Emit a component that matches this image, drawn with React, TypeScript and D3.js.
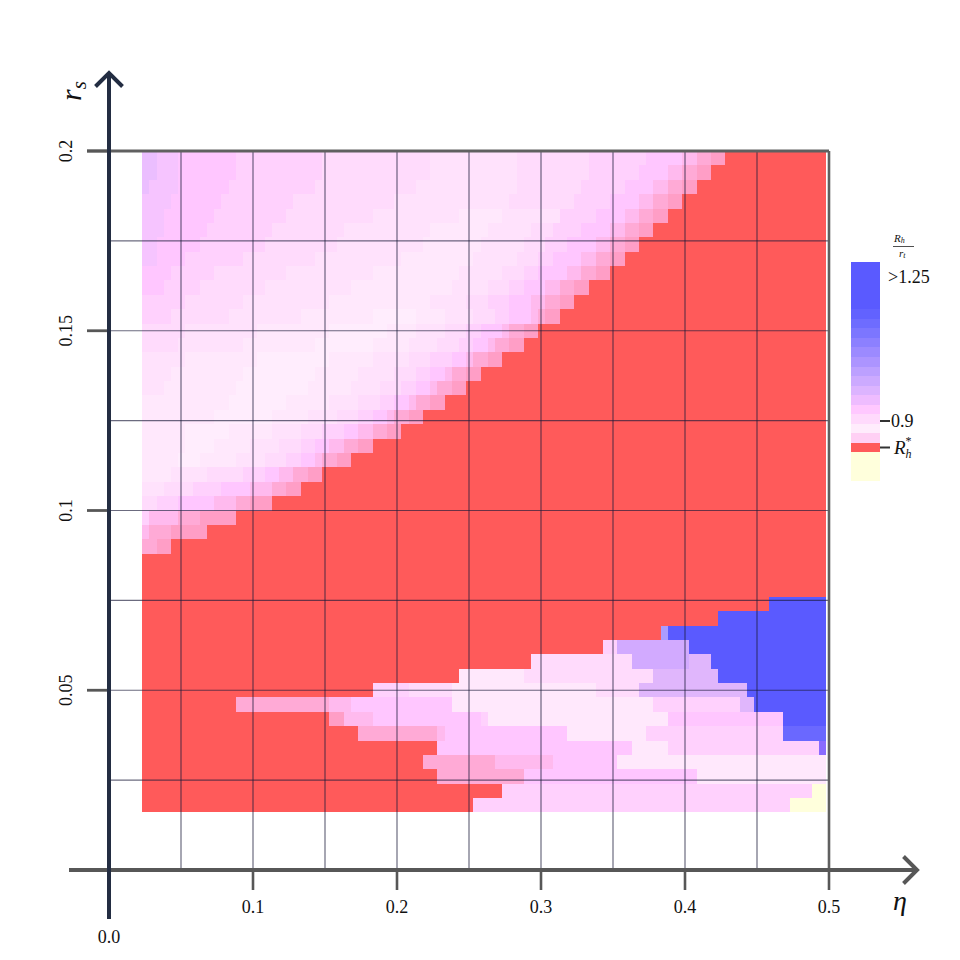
import React from "react";
import * as d3 from "d3";

// ---- grid definition (data space) ----
const ETA_START = 0.023;
const ETA_STEP = 0.005;
const N_COLS = 95;
const RS_TOP = 0.2;
const RS_STEP = 0.004;

// ---- cell classes, one RLE string per row, top row first ----
const HEAT_ROWS: string[] = [
  "L2M3P8Q12S15T12S10Q8P5K2G2H2R14",
  "L2M3P8Q12S15T12S10Q7P4K2G2H2R16",
  "L1M4P7Q12S14T14S9Q6P4K2G2H2R18",
  "M4P7Q10S14T16S9Q5P4K2G2H2R20",
  "M3P7Q10S12T12W6T8Q5P4K2G2H2R22",
  "M3P6Q9S10T12W8T6S3Q4P4K2G2H2R24",
  "M2P6Q9S10T12W8T6S3Q3P4K2G2H2R26",
  "M2P4Q8S10T12W10T6S3Q2P4K2G2H2R28",
  "P4Q6S10T12W12T6S3Q2P4K2G2H2R30",
  "P3Q5S9T12W14T5S3Q2P3K2G2H2R33",
  "Q6S8T12W14T5S3Q3P3K2G2H2R35",
  "Q4S8T10W10X6W4T4S3Q2P3K1G1H2R37",
  "S6T10W10X8W4T4S3Q2P3K1G2H2R40",
  "S5T9W10X8W5T4S3Q2P2K1G2H2R42",
  "T6W10X10W6T5S3Q3P2K1G2H2R45",
  "T4W10X10W6T5S3Q2P2K1G2H2R48",
  "T3W10X10W6T4S3Q2P2K1G2H2R50",
  "W12X8W6T4S3Q2P2K1G2H2R53",
  "W10X8W5T4S3Q2P2K1G2H2R56",
  "W6X6W6T4S3Q3P2K2G2H2R59",
  "W6X4W5T4S3Q2P2K2G2H2R63",
  "W5X3W5T4S3Q2P2K1G2H2R66",
  "W4T5S5Q3P2K2G2H2R70",
  "T3S4Q4P4K3G2H2R73",
  "S2Q3P5K3G2H3R77",
  "Q1K4G3H5R82",
  "K1G3H5R86",
  "G2H2R91",
  "R95",
  "R95",
  "R95",
  "R87B8",
  "R80B15",
  "R72E1B22",
  "R64Q2V10B19",
  "R54S14V8U3B16",
  "R44W9S18U9B15",
  "R32Q5S6W20S6U15B11",
  "R13G13K3P14W28Q12U2B10",
  "R26H2K4P15Q1W25P16B6",
  "R30G11K1P17W11Q19C6",
  "R41P27W5Q21D1",
  "R39G10K8P9W29",
  "R41G12P24W18",
  "R50Q43Y2",
  "R46Q44Y5",
];

const CLASS_COLORS: Record<string, string> = {
  L: "#ebbeff",
  M: "#f6c4ff",
  P: "#ffc6ff",
  Q: "#ffd1fd",
  S: "#ffdbfc",
  T: "#ffe2fc",
  W: "#ffe8fc",
  X: "#ffedfd",
  K: "#ffbaee",
  G: "#ffaad6",
  H: "#ff9ec6",
  U: "#e0b6fc",
  V: "#d2aaff",
  E: "#aa9cff",
  B: "#5a5aff",
  C: "#6a68ff",
  D: "#8a6cff",
  R: "#ff5a5a",
  Y: "#ffffdc",
};

// colorbar bands, top to bottom
const CBAR_COLORS: string[] = [
  "#5a5aff", "#5a5aff", "#5a5aff", "#5a5aff", "#5a5aff",
  "#6262ff", "#6e6cff", "#7c76ff", "#8c80ff", "#9c8aff", "#ac94ff",
  "#bca0ff", "#ccaaff", "#dcb4ff", "#eebcff", "#ffc8ff", "#ffdafc",
  "#ffecfc", "#ffd0f4", "#ff5a5a", "#ffffdc", "#ffffdc", "#ffffdc",
];

const X_TICKS = [0.1, 0.2, 0.3, 0.4, 0.5];
const Y_TICKS = [0.05, 0.1, 0.15, 0.2];
const X_GRID = [0.05, 0.1, 0.15, 0.2, 0.25, 0.3, 0.35, 0.4, 0.45];
const Y_GRID = [0.025, 0.05, 0.075, 0.1, 0.125, 0.15, 0.175];

const SERIF = "'Liberation Serif', 'DejaVu Serif', serif";

type Run = { row: number; c0: number; c1: number; cls: string };

function parseRows(rows: string[]): Run[] {
  const runs: Run[] = [];
  rows.forEach((s, row) => {
    let c = 0;
    const re = /([A-Z])(\d+)/g;
    let m: RegExpExecArray | null;
    while ((m = re.exec(s)) !== null) {
      const n = parseInt(m[2], 10);
      const c1 = Math.min(N_COLS, c + n);
      if (c1 > c) runs.push({ row, c0: c, c1, cls: m[1] });
      c = c1;
    }
  });
  return runs;
}

export default function App() {
  const x = d3.scaleLinear().domain([0, 0.5]).range([109, 829]);
  const y = d3.scaleLinear().domain([0, 0.2]).range([870, 151]);
  const runs = parseRows(HEAT_ROWS);

  const cbTop = 261.7;
  const cbStep = 9.53;
  const cbX = 851;
  const cbW = 29;

  const axisGray = "#575757";
  const navy = "#232d42";

  return (
    <svg
      width={960}
      height={960}
      style={{ position: "absolute", left: 0, top: 0, background: "#fff" }}
    >
      <rect x={0} y={0} width={960} height={960} fill="#fff" />
      {/* heatmap */}
      <g shapeRendering="crispEdges">
        {runs.map((r, i) => {
          const e0 = ETA_START + ETA_STEP * r.c0;
          const e1 = ETA_START + ETA_STEP * r.c1;
          const rTop = RS_TOP - RS_STEP * r.row;
          const rBot = RS_TOP - RS_STEP * (r.row + 1);
          return (
            <rect
              key={i}
              x={x(e0)}
              y={y(rTop)}
              width={x(e1) - x(e0)}
              height={y(rBot) - y(rTop)}
              fill={CLASS_COLORS[r.cls]}
            />
          );
        })}
      </g>
      {/* grid */}
      <g stroke="#1b1b3a" strokeOpacity={0.65} strokeWidth={1.2}>
        {X_GRID.map((v) => (
          <line key={"gx" + v} x1={x(v)} x2={x(v)} y1={y(0.2)} y2={y(0)} />
        ))}
        {Y_GRID.map((v) => (
          <line key={"gy" + v} x1={x(0)} x2={x(0.5)} y1={y(v)} y2={y(v)} />
        ))}
      </g>
      {/* frame top & right */}
      <line x1={87} x2={x(0.5)} y1={y(0.2)} y2={y(0.2)} stroke="#606060" strokeWidth={2.8} />
      <line x1={x(0.5)} x2={x(0.5)} y1={y(0.2)} y2={y(0)} stroke="#606060" strokeWidth={2.6} />
      {/* ticks */}
      {X_TICKS.map((v) => (
        <line key={"xt" + v} x1={x(v)} x2={x(v)} y1={y(0)} y2={y(0) + 20} stroke={axisGray} strokeWidth={2.6} />
      ))}
      {Y_TICKS.map((v) => (
        <line key={"yt" + v} x1={87} x2={x(0)} y1={y(v)} y2={y(v)} stroke={axisGray} strokeWidth={2.8} />
      ))}
      {/* x axis */}
      <line x1={69} x2={916} y1={y(0)} y2={y(0)} stroke={axisGray} strokeWidth={4} />
      <polyline
        points={`903.5,856.5 917,${y(0)} 903.5,883.5`}
        fill="none"
        stroke={axisGray}
        strokeWidth={4}
      />
      {/* y axis */}
      <line x1={x(0)} x2={x(0)} y1={919} y2={74} stroke={navy} strokeWidth={4} />
      <polyline
        points={`95.5,86.5 ${x(0)},73 122.5,86.5`}
        fill="none"
        stroke={navy}
        strokeWidth={4}
      />
      {/* tick labels */}
      <g fontFamily={SERIF} fontSize={18} fill="#111">
        {X_TICKS.map((v) => (
          <text key={"xl" + v} x={x(v)} y={913} textAnchor="middle">
            {d3.format(".1f")(v)}
          </text>
        ))}
        <text x={x(0)} y={943} textAnchor="middle">0.0</text>
        {Y_TICKS.map((v) => (
          <text
            key={"yl" + v}
            transform={`translate(72,${y(v)}) rotate(-90)`}
            textAnchor="middle"
          >
            {String(v)}
          </text>
        ))}
      </g>
      {/* axis titles */}
      <text x={893} y={910} fontFamily={SERIF} fontStyle="italic" fontSize={28} fill="#111">
        η
      </text>
      <text
        transform="translate(81,101) rotate(-90)"
        fontFamily={SERIF}
        fontStyle="italic"
        fontSize={30}
        fill="#111"
      >
        r<tspan fontSize={21} dy={5}>s</tspan>
      </text>
      {/* colorbar */}
      <g shapeRendering="crispEdges">
        {CBAR_COLORS.map((c, i) => (
          <rect
            key={"cb" + i}
            x={cbX}
            y={cbTop + i * cbStep}
            width={cbW}
            height={cbStep + 0.5}
            fill={c}
          />
        ))}
      </g>
      <g fontFamily={SERIF} fill="#111">
        <text x={888} y={283} fontSize={18}>{">1.25"}</text>
        <line x1={880} x2={890} y1={421} y2={421} stroke="#333" strokeWidth={2} />
        <text x={891} y={427} fontSize={18}>0.9</text>
        <line x1={880} x2={890} y1={447.5} y2={447.5} stroke="#333" strokeWidth={2} />
        <text x={894} y={454} fontSize={19} fontStyle="italic">
          R<tspan fontSize={12} dy={4}>h</tspan>
          <tspan fontSize={12} dx={-6} dy={-13} fontStyle="normal">*</tspan>
        </text>
        <text x={894} y={242} fontSize={11} fontStyle="italic">
          R<tspan fontSize={8} dy={1}>h</tspan>
        </text>
        <line x1={893} x2={914} y1={246.5} y2={246.5} stroke="#222" strokeWidth={0.8} />
        <text x={899} y={257} fontSize={11} fontStyle="italic">
          r<tspan fontSize={8} dy={1}>t</tspan>
        </text>
      </g>
    </svg>
  );
}
